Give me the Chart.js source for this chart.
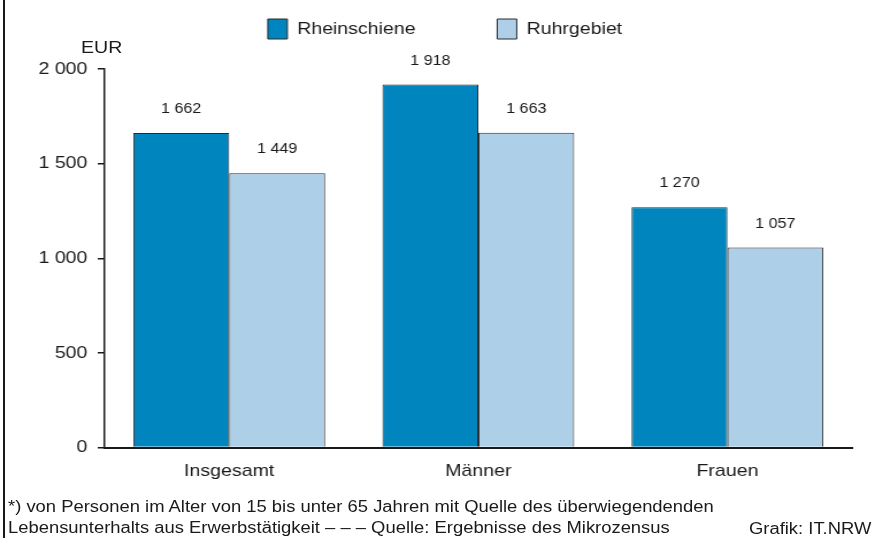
<!DOCTYPE html>
<html lang="de">
<head>
  <meta charset="UTF-8" />
  <title>Nettoeinkommen nach Geschlecht</title>
  <script src="https://cdn.jsdelivr.net/npm/chart.js"></script>
  <style>
    html, body { margin: 0; padding: 0; background: #fff; }
    body { width: 875px; height: 538px; position: relative; overflow: hidden; font-family: "Liberation Sans", Arial, sans-serif; color: #1a1a1a; }
    /* Original ist horizontal leicht gestreckt */
    #chart { position: absolute; left: 0; top: 0; transform: scaleX(1.1498); transform-origin: 0 0; }
    .rand { position: absolute; left: 3px; top: 0; width: 2px; height: 538px; background: #1a1a1a; }
    .txt { position: absolute; white-space: nowrap; transform: scaleX(1.15); transform-origin: 0 0; }
    .eur { left: 81px; top: 38px; font-size: 17px; }
    .fuss { left: 8px; top: 496px; font-size: 16px; line-height: 21px; }
    .grafik { left: 749px; top: 520px; font-size: 16px; }
  </style>
</head>
<body>
  <canvas id="chart" width="761" height="538" style="width:761px;height:538px"></canvas>
  <div class="rand"></div>
  <div class="txt eur">EUR</div>
  <div class="txt fuss">*) von Personen im Alter von 15 bis unter 65 Jahren mit Quelle des überwiegendenden<br>Lebensunterhalts aus Erwerbstätigkeit – – – Quelle: Ergebnisse des Mikrozensus</div>
  <div class="txt grafik">Grafik: IT.NRW</div>

  <script>
    const kategorien = ["Insgesamt", "Männer", "Frauen"];
    const rheinschiene = [1662, 1918, 1270];
    const ruhrgebiet = [1449, 1663, 1057];
    const yTicks = [0, 500, 1000, 1500, 2000];

    const schrift = "'Liberation Sans', Arial, sans-serif";
    const fmt = v => String(v).replace(/\B(?=(\d{3})+(?!\d))/g, " ");

    // Werte über den Balken
    const werteLabels = {
      id: "werteLabels",
      afterDatasetsDraw(chart) {
        const ctx = chart.ctx;
        ctx.save();
        ctx.font = "14px " + schrift;
        ctx.fillStyle = "#1a1a1a";
        ctx.textAlign = "center";
        ctx.textBaseline = "alphabetic";
        chart.data.datasets.forEach((ds, i) => {
          chart.getDatasetMeta(i).data.forEach((bar, j) => {
            ctx.fillText(fmt(ds.data[j]), bar.x, bar.y - 20);
          });
        });
        ctx.restore();
      }
    };

    // Legende oben, Diagrammfläche beginnt bei y = 69
    const legendeLage = {
      id: "legendeLage",
      beforeInit(chart) {
        const orig = chart.legend.fit;
        chart.legend.fit = function () {
          orig.bind(chart.legend)();
          this.height = 69;
        };
      },
      afterLayout(chart) {
        const pad = chart.options.plugins.legend.labels.padding;
        chart.legend.top = 19 - pad;
        chart.legend.left = 33;
      }
    };

    new Chart(document.getElementById("chart"), {
      type: "bar",
      data: {
        labels: kategorien,
        datasets: [
          { label: "Rheinschiene", data: rheinschiene, backgroundColor: "#0085BE", borderColor: "#2b2b2b", borderWidth: 1 },
          { label: "Ruhrgebiet", data: ruhrgebiet, backgroundColor: "#AECFE8", borderColor: "#2b2b2b", borderWidth: 1 }
        ]
      },
      options: {
        responsive: false,
        animation: false,
        layout: { padding: { top: 0, right: 20, bottom: 50, left: 0 } },
        datasets: { bar: { categoryPercentage: 0.77, barPercentage: 1.0 } },
        plugins: {
          legend: {
            position: "top",
            labels: {
              boxWidth: 17, boxHeight: 20, padding: 71, color: "#1a1a1a",
              font: { family: schrift, size: 17 }
            }
          },
          tooltip: { enabled: false }
        },
        scales: {
          x: {
            grid: { display: false },
            border: { display: true, color: "#1a1a1a", width: 2 },
            ticks: { color: "#1a1a1a", padding: 6, font: { family: schrift, size: 17 } }
          },
          y: {
            min: 0, max: 2000,
            afterFit(scale) { scale.width = 91; },
            afterBuildTicks(scale) { scale.ticks = yTicks.map(v => ({ value: v })); },
            grid: { drawOnChartArea: false, drawTicks: true, tickLength: 6, color: "#1a1a1a", lineWidth: 1.5 },
            border: { display: true, color: "#1a1a1a", width: 1.5 },
            ticks: {
              color: "#1a1a1a", padding: 9,
              font: { family: schrift, size: 17 },
              callback: v => fmt(v)
            }
          }
        }
      },
      plugins: [werteLabels, legendeLage]
    });
  </script>
</body>
</html>
